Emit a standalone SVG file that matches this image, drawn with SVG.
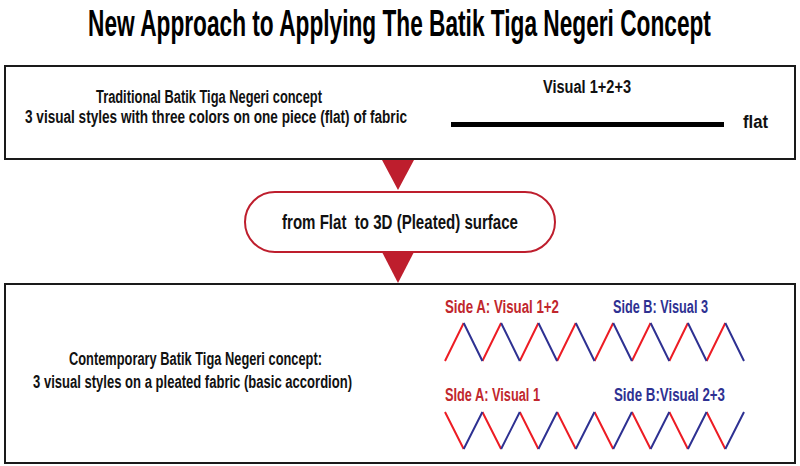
<svg xmlns="http://www.w3.org/2000/svg" width="800" height="466" viewBox="0 0 800 466">
<style>
text{font-family:"Liberation Sans","DejaVu Sans",sans-serif;font-weight:bold}
.t{font-size:18px;fill:#111}
.box{fill:#fff;stroke:#1a1a1a;stroke-width:2}
.red{fill:#c1272d}
.blue{fill:#2e3192}
.zr{stroke:#ed1c24;stroke-width:2;fill:none}
.zb{stroke:#2e3192;stroke-width:2;fill:none}
.arrow{fill:#be1e2d}
</style>
<rect width="800" height="466" fill="#fff"/>
<text transform="translate(399.5,36) scale(0.6,1)" text-anchor="middle" font-size="37" fill="#000" textLength="1038" lengthAdjust="spacingAndGlyphs">New Approach to Applying The Batik Tiga Negeri Concept</text>

<g id="traditional">
<rect class="box" x="5" y="66" width="790" height="93"/>
<text class="t" x="96" y="103" textLength="226" lengthAdjust="spacingAndGlyphs">Traditional Batik Tiga Negeri concept</text>
<text class="t" x="25" y="123" textLength="382" lengthAdjust="spacingAndGlyphs">3 visual styles with three colors on one piece (flat) of fabric</text>
<text class="t" x="543" y="93" textLength="88" lengthAdjust="spacingAndGlyphs">Visual 1+2+3</text>
<rect x="451" y="122" width="273" height="5" fill="#000"/>
<text class="t" x="743" y="128" textLength="25" lengthAdjust="spacingAndGlyphs">flat</text>
</g>

<g id="transition">
<rect x="245" y="192" width="310" height="60" rx="30" ry="30" fill="#fff" stroke="#be1e2d" stroke-width="2"/>
<text x="282" y="229" font-size="20" fill="#111" textLength="236" lengthAdjust="spacingAndGlyphs" xml:space="preserve">from Flat  to 3D (Pleated) surface</text>
</g>

<g id="contemporary">
<rect class="box" x="5" y="284" width="790" height="179"/>
<text class="t" x="69" y="365" textLength="253" lengthAdjust="spacingAndGlyphs">Contemporary Batik Tiga Negeri concept:</text>
<text class="t" x="33" y="388" textLength="319" lengthAdjust="spacingAndGlyphs">3 visual styles on a pleated fabric (basic accordion)</text>
<text class="t red" x="445" y="313" textLength="114" lengthAdjust="spacingAndGlyphs">Side A: Visual 1+2</text>
<text class="t blue" x="613" y="313" textLength="95" lengthAdjust="spacingAndGlyphs">Side B: Visual 3</text>
<path class="zr" d="M445 361L463.7 323M482.4 361L501.1 323M519.8 361L538.4 323M557.1 361L575.8 323M594.5 361L613.2 323M631.9 361L650.6 323M669.3 361L687.9 323M706.6 361L725.3 323"/>
<path class="zb" d="M463.7 323L482.4 361M501.1 323L519.8 361M538.4 323L557.1 361M575.8 323L594.5 361M613.2 323L631.9 361M650.6 323L669.3 361M687.9 323L706.6 361M725.3 323L744 361"/>
<text class="t red" x="445" y="401" textLength="95" lengthAdjust="spacingAndGlyphs">SIde A: Visual 1</text>
<text class="t blue" x="614" y="401" textLength="111" lengthAdjust="spacingAndGlyphs">Side B:Visual 2+3</text>
<path class="zr" d="M445 412L463.7 449M482.4 412L501.1 449M519.8 412L538.4 449M557.1 412L575.8 449M594.5 412L613.2 449M631.9 412L650.6 449M669.3 412L687.9 449M706.6 412L725.3 449"/>
<path class="zb" d="M463.7 449L482.4 412M501.1 449L519.8 412M538.4 449L557.1 412M575.8 449L594.5 412M613.2 449L631.9 412M650.6 449L669.3 412M687.9 449L706.6 412M725.3 449L744 412"/>
</g>

<g id="connectors">
<polygon class="arrow" points="382,160 414,160 398,190"/>
<polygon class="arrow" points="382,252 414,252 398,283"/>
</g>
</svg>
